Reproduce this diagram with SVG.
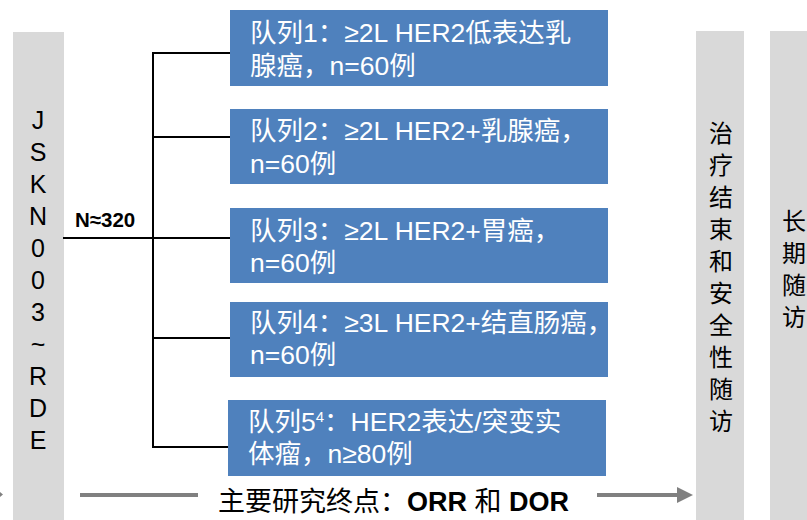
<svg xmlns="http://www.w3.org/2000/svg" width="807" height="520" viewBox="0 0 807 520">
<style>
.bar{fill:#D9D9D9}
.box{fill:#4F81BD}
.bt{font-family:"Liberation Sans","Noto Sans CJK SC",sans-serif;font-size:26.5px;fill:#FFFFFF}
.vt{font-family:"Liberation Sans","Noto Sans CJK SC",sans-serif;font-size:25px;fill:#000000;text-anchor:middle}
.ct{font-family:"Liberation Sans","Noto Sans CJK SC",sans-serif;font-size:24px;fill:#000000;text-anchor:middle}
.ln{stroke:#000000;stroke-width:2;fill:none}
.gl{stroke:#808080;stroke-width:4;fill:none}
</style>
<rect width="807" height="520" fill="#FFFFFF"/>
<g id="left-bar">
<rect class="bar" x="13" y="32" width="51" height="488"/>
<text class="vt"><tspan x="38" y="129">J</tspan><tspan x="38" y="161">S</tspan><tspan x="38" y="193">K</tspan><tspan x="38" y="225">N</tspan><tspan x="38" y="257">0</tspan><tspan x="38" y="289">0</tspan><tspan x="38" y="321">3</tspan><tspan x="38" y="353">~</tspan><tspan x="38" y="385">R</tspan><tspan x="38" y="417">D</tspan><tspan x="38" y="449">E</tspan></text>
</g>
<g id="connectors">
<line class="ln" x1="63" y1="238" x2="153" y2="238"/>
<line class="ln" x1="153" y1="53" x2="153" y2="448"/>
<line class="ln" x1="152" y1="53" x2="230" y2="53"/>
<line class="ln" x1="152" y1="137" x2="230" y2="137"/>
<line class="ln" x1="152" y1="238" x2="230" y2="238"/>
<line class="ln" x1="152" y1="338" x2="230" y2="338"/>
<line class="ln" x1="152" y1="447" x2="228" y2="447"/>
<text x="75" y="227" font-family="Liberation Sans, sans-serif" font-size="20.5" font-weight="bold" fill="#000000">N≈320</text>
<line class="gl" x1="80" y1="495" x2="198" y2="495"/>
<line class="gl" x1="597" y1="495" x2="679" y2="495"/>
<polygon points="677,487 693,495 677,503" fill="#808080"/>
<polygon points="0,492 3,494.5 0,497" fill="#808080"/>
</g>
<g id="cohort1">
<rect class="box" x="230" y="10" width="378" height="76"/>
<text class="bt"><tspan x="250" y="42">队列1：≥2L HER2低表达乳</tspan><tspan x="250" y="75">腺癌，n=60例</tspan></text>
</g>
<g id="cohort2">
<rect class="box" x="230" y="109" width="378" height="75"/>
<text class="bt"><tspan x="250" y="140">队列2：≥2L HER2+乳腺癌，</tspan><tspan x="250" y="173">n=60例</tspan></text>
</g>
<g id="cohort3">
<rect class="box" x="230" y="208" width="378" height="75"/>
<text class="bt"><tspan x="250" y="240">队列3：≥2L HER2+胃癌，</tspan><tspan x="250" y="272">n=60例</tspan></text>
</g>
<g id="cohort4">
<rect class="box" x="230" y="302" width="378" height="75"/>
<text class="bt"><tspan x="250" y="332">队列4：≥3L HER2+结直肠癌，</tspan><tspan x="250" y="364">n=60例</tspan></text>
</g>
<g id="cohort5">
<rect class="box" x="228" y="400" width="378" height="76"/>
<text class="bt"><tspan x="248" y="431">队列5</tspan><tspan font-size="15" dy="-9">4</tspan><tspan dy="9">：HER2表达/突变实</tspan><tspan x="248" y="463">体瘤，n≥80例</tspan></text>
</g>
<g id="end-of-treatment">
<rect class="bar" x="696" y="31" width="48" height="489"/>
<text class="ct"><tspan x="721" y="142">治</tspan><tspan x="721" y="174">疗</tspan><tspan x="721" y="206">结</tspan><tspan x="721" y="238">束</tspan><tspan x="721" y="270">和</tspan><tspan x="721" y="302">安</tspan><tspan x="721" y="334">全</tspan><tspan x="721" y="366">性</tspan><tspan x="721" y="398">随</tspan><tspan x="721" y="430">访</tspan></text>
</g>
<g id="long-term-follow-up">
<rect class="bar" x="770" y="31" width="37" height="489"/>
<text class="ct"><tspan x="794" y="230">长</tspan><tspan x="794" y="262">期</tspan><tspan x="794" y="294">随</tspan><tspan x="794" y="326">访</tspan></text>
</g>
<g id="endpoint">
<text x="218" y="511" font-family="Liberation Sans, Noto Sans CJK SC, sans-serif" font-size="27" fill="#000000">主要研究终点：<tspan font-weight="bold">ORR</tspan> 和 <tspan font-weight="bold">DOR</tspan></text>
</g>
</svg>
